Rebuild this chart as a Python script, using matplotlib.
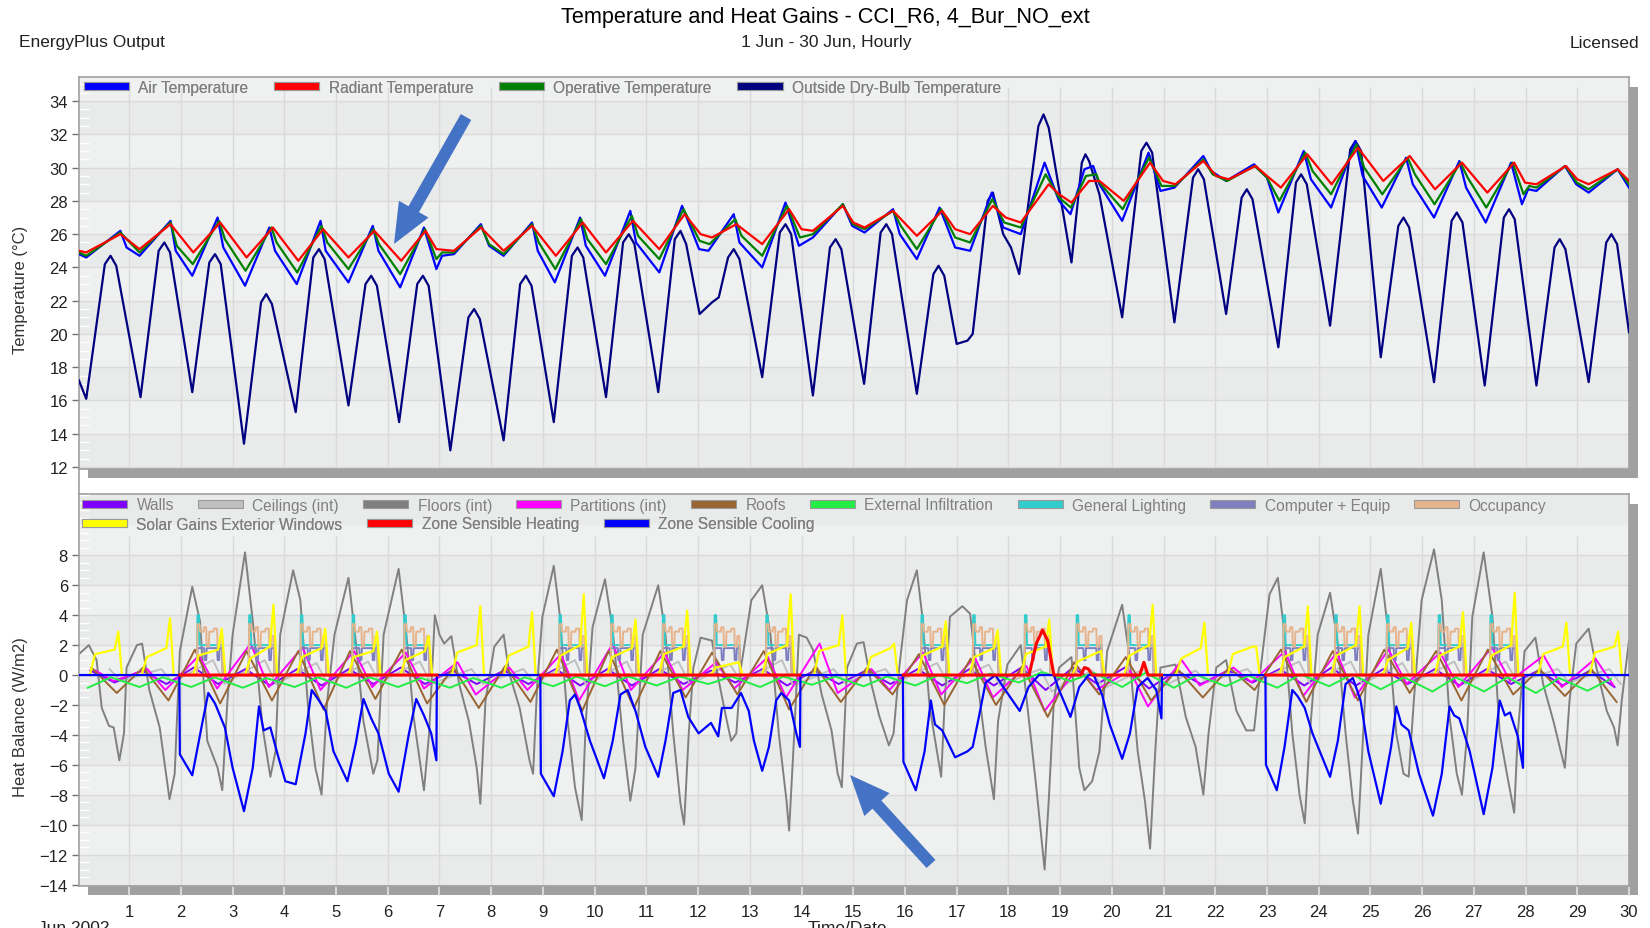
import numpy as np
import matplotlib
matplotlib.use('Agg')
import matplotlib.pyplot as plt
from matplotlib import font_manager
from matplotlib.patches import Patch, Rectangle, FancyArrow
from matplotlib.lines import Line2D
from matplotlib.transforms import IdentityTransform

# ---------------------------------------------------------------- data
# hourly EnergyPlus results, June; time in days from 1 Jun 00:00
outside_temp = [(0.03, 17.2), (0.17, 16.1), (0.53, 24.2), (0.64, 24.7), (0.75, 24.1), (1.22, 16.2),
                (1.57, 25.0), (1.68, 25.5), (1.79, 24.9), (2.22, 16.5), (2.55, 24.3), (2.66, 24.8),
                (2.77, 24.2), (3.22, 13.4), (3.55, 21.9), (3.65, 22.4), (3.76, 21.8), (4.22, 15.3),
                (4.56, 24.6), (4.67, 25.1), (4.78, 24.5), (5.24, 15.7), (5.57, 23.0), (5.68, 23.5),
                (5.79, 22.9), (6.22, 14.7), (6.57, 23.0), (6.68, 23.5), (6.79, 22.9), (7.21, 13.0),
                (7.56, 21.0), (7.67, 21.5), (7.78, 20.9), (8.24, 13.6), (8.56, 23.0), (8.67, 23.5),
                (8.78, 22.9), (9.21, 14.7), (9.56, 24.7), (9.67, 25.2), (9.78, 24.6), (10.22, 16.2),
                (10.55, 25.5), (10.66, 26.0), (10.77, 25.4), (11.23, 16.5), (11.55, 25.7), (11.66, 26.2),
                (11.77, 25.4), (12.03, 21.2), (12.27, 21.9), (12.40, 22.2), (12.58, 24.6), (12.69, 25.1),
                (12.80, 24.5), (13.24, 17.4), (13.58, 26.1), (13.69, 26.6), (13.80, 26.0), (14.22, 16.3),
                (14.55, 25.2), (14.66, 25.7), (14.77, 25.1), (15.21, 17.0), (15.53, 26.1), (15.64, 26.6),
                (15.75, 26.0), (16.23, 16.4), (16.55, 23.6), (16.65, 24.1), (16.76, 23.5), (17.00, 19.4),
                (17.21, 19.6), (17.31, 20.0), (17.60, 28.0), (17.70, 28.5), (17.90, 26.0), (18.05, 25.2),
                (18.21, 23.6), (18.58, 32.5), (18.68, 33.2), (18.78, 32.4), (19.22, 24.3), (19.42, 30.3),
                (19.49, 30.8), (19.56, 30.4), (19.76, 28.4), (20.20, 21.0), (20.57, 31.0), (20.67, 31.5),
                (20.78, 30.9), (21.21, 20.7), (21.57, 29.4), (21.67, 29.9), (21.78, 29.3), (22.21, 21.2),
                (22.51, 28.2), (22.61, 28.7), (22.72, 28.1), (23.22, 19.2), (23.56, 29.1), (23.66, 29.6),
                (23.77, 29.0), (24.22, 20.5), (24.61, 31.1), (24.71, 31.6), (24.82, 31.0), (25.20, 18.6),
                (25.54, 26.5), (25.64, 27.0), (25.75, 26.4), (26.23, 17.1), (26.57, 26.8), (26.67, 27.3),
                (26.78, 26.7), (27.21, 16.9), (27.58, 27.0), (27.68, 27.5), (27.79, 26.9), (28.21, 16.9),
                (28.56, 25.2), (28.66, 25.7), (28.77, 25.1), (29.22, 17.1), (29.56, 25.5), (29.66, 26.0),
                (29.77, 25.4), (30.00, 20.1)]

air_temp = [(0.03, 24.8), (0.17, 24.6), (0.83, 26.2), (0.95, 25.2), (1.20, 24.7), (1.80, 26.8), (1.90, 25.0),
            (2.22, 23.5), (2.71, 27.0), (2.82, 25.2), (3.24, 22.9), (3.71, 26.4), (3.82, 25.0), (4.24, 23.0),
            (4.70, 26.8), (4.80, 25.0), (5.24, 23.1), (5.71, 26.5), (5.82, 25.0), (6.24, 22.8), (6.70, 26.4),
            (6.94, 23.9), (7.05, 24.7), (7.28, 24.8), (7.80, 26.6), (7.96, 25.3), (8.24, 24.7), (8.79, 26.7),
            (8.90, 25.0), (9.23, 23.1), (9.72, 27.0), (9.83, 25.3), (10.20, 23.5), (10.69, 27.4), (10.80, 25.5),
            (11.25, 23.7), (11.69, 27.7), (12.02, 25.1), (12.20, 25.0), (12.69, 27.2), (12.80, 25.5),
            (13.24, 24.0), (13.69, 27.9), (13.95, 25.3), (14.22, 25.8), (14.80, 27.8), (14.98, 26.5),
            (15.22, 26.1), (15.77, 27.5), (15.90, 26.0), (16.23, 24.5), (16.67, 27.6), (16.97, 25.2),
            (17.26, 25.0), (17.68, 28.5), (17.90, 26.4), (18.24, 26.0), (18.70, 30.3), (18.98, 28.0),
            (19.20, 27.2), (19.47, 29.9), (19.64, 30.1), (19.76, 29.0), (20.20, 26.8), (20.71, 30.9),
            (20.94, 28.6), (21.21, 28.8), (21.77, 30.7), (21.92, 29.8), (22.21, 29.2), (22.75, 30.2),
            (23.00, 29.4), (23.22, 27.3), (23.71, 31.0), (23.85, 29.3), (24.24, 27.6), (24.71, 31.6),
            (24.85, 29.5), (25.22, 27.6), (25.69, 30.6), (25.82, 29.0), (26.23, 27.0), (26.72, 30.4),
            (26.85, 28.8), (27.23, 26.7), (27.72, 30.3), (27.93, 27.8), (28.05, 28.7), (28.21, 28.6),
            (28.76, 30.1), (28.98, 29.0), (29.22, 28.5), (29.78, 29.9), (30.00, 28.8)]

radiant_temp = [(0.03, 25.0), (0.17, 24.9), (0.83, 26.0), (1.20, 25.1), (1.80, 26.6), (2.24, 24.9),
                (2.76, 26.7), (3.27, 24.6), (3.78, 26.4), (4.27, 24.4), (4.75, 26.3), (5.24, 24.6),
                (5.74, 26.2), (6.26, 24.4), (6.73, 26.2), (6.94, 25.1), (7.28, 25.0), (7.80, 26.4),
                (8.24, 25.0), (8.79, 26.5), (9.25, 24.7), (9.77, 26.7), (10.22, 24.9), (10.74, 26.8),
                (11.25, 25.1), (11.74, 27.2), (12.05, 26.0), (12.27, 25.8), (12.74, 26.6), (13.24, 25.4),
                (13.76, 27.5), (14.00, 26.3), (14.22, 26.2), (14.80, 27.7), (15.00, 26.7), (15.22, 26.4),
                (15.77, 27.4), (16.23, 25.9), (16.72, 27.4), (16.97, 26.3), (17.26, 26.0), (17.70, 27.7),
                (17.95, 27.0), (18.24, 26.7), (18.78, 29.0), (18.98, 28.4), (19.22, 27.9), (19.56, 29.2),
                (19.76, 29.2), (20.23, 28.0), (20.74, 30.3), (20.99, 29.2), (21.23, 29.0), (21.77, 30.4),
                (22.02, 29.5), (22.26, 29.3), (22.78, 30.1), (23.00, 29.5), (23.27, 28.8), (23.78, 30.8),
                (24.25, 29.0), (24.76, 31.2), (25.25, 29.2), (25.76, 30.7), (26.25, 28.7), (26.77, 30.3),
                (27.26, 28.5), (27.78, 30.3), (27.99, 29.1), (28.21, 29.0), (28.78, 30.1), (29.00, 29.3),
                (29.22, 29.0), (29.78, 29.9), (30.00, 29.2)]

operative_temp = [(0.03, 24.9), (0.17, 24.7), (0.83, 26.1), (1.20, 24.9), (1.80, 26.7), (1.92, 25.3),
                  (2.23, 24.2), (2.74, 26.8), (2.85, 25.7), (3.25, 23.8), (3.75, 26.4), (3.85, 25.5),
                  (4.25, 23.7), (4.72, 26.5), (4.83, 25.5), (5.24, 23.9), (5.72, 26.3), (5.83, 25.4),
                  (6.24, 23.6), (6.72, 26.3), (6.94, 24.5), (7.05, 24.9), (7.28, 24.9), (7.80, 26.5),
                  (7.96, 25.4), (8.24, 24.8), (8.79, 26.6), (8.92, 25.5), (9.24, 23.9), (9.74, 26.9),
                  (9.86, 25.7), (10.22, 24.2), (10.72, 27.1), (10.84, 25.9), (11.25, 24.5), (11.72, 27.5),
                  (12.03, 25.6), (12.22, 25.4), (12.72, 26.9), (12.84, 25.9), (13.24, 24.7), (13.72, 27.7),
                  (13.97, 25.8), (14.22, 26.0), (14.80, 27.8), (14.99, 26.6), (15.22, 26.3), (15.77, 27.4),
                  (15.92, 26.5), (16.23, 25.1), (16.70, 27.5), (16.97, 25.8), (17.26, 25.5), (17.69, 28.1),
                  (17.92, 26.7), (18.24, 26.4), (18.72, 29.6), (18.98, 28.2), (19.21, 27.6), (19.50, 29.5),
                  (19.70, 29.6), (19.76, 29.1), (20.21, 27.5), (20.72, 30.6), (20.96, 28.9), (21.22, 28.9),
                  (21.77, 30.5), (21.95, 29.6), (22.23, 29.2), (22.76, 30.1), (23.00, 29.4), (23.24, 28.0),
                  (23.74, 30.9), (23.88, 29.8), (24.24, 28.4), (24.73, 31.4), (24.88, 30.0), (25.23, 28.4),
                  (25.72, 30.6), (25.86, 29.6), (26.24, 27.8), (26.74, 30.3), (26.88, 29.4), (27.24, 27.6),
                  (27.75, 30.3), (27.96, 28.4), (28.07, 28.9), (28.21, 28.8), (28.77, 30.1), (28.99, 29.1),
                  (29.22, 28.7), (29.78, 29.9), (30.00, 29.0)]

floors = [(0.03, 1.4), (0.22, 2.0), (0.37, 1.0), (0.47, -2.2), (0.61, -3.4), (0.70, -3.5), (0.81, -5.7),
          (0.90, -3.9), (0.95, 0.5), (1.15, 2.0), (1.25, 2.1), (1.39, -1.0), (1.59, -3.5), (1.78, -8.3),
          (1.88, -6.6), (1.98, 1.6), (2.22, 5.9), (2.37, 3.6), (2.51, -4.4), (2.71, -6.2), (2.80, -7.7),
          (2.90, -1.7), (3.00, 2.7), (3.24, 8.2), (3.39, 3.6), (3.58, -3.5), (3.73, -6.8), (3.83, -5.1),
          (3.92, 2.7), (4.17, 7.0), (4.31, 5.0), (4.46, -2.2), (4.60, -6.2), (4.72, -8.0), (4.83, -1.7),
          (4.97, 2.7), (5.24, 6.5), (5.38, 2.3), (5.53, -3.1), (5.72, -6.6), (5.80, -5.7), (5.92, 2.7),
          (6.21, 7.1), (6.36, 2.7), (6.50, -2.8), (6.70, -7.7), (6.80, -3.9), (6.91, 4.0), (7.00, 2.7),
          (7.09, 2.1), (7.23, 2.6), (7.38, -0.6), (7.57, -3.1), (7.72, -6.2), (7.79, -8.6), (7.89, -1.7),
          (8.06, 1.9), (8.24, 2.7), (8.35, 0.1), (8.55, -2.2), (8.74, -5.7), (8.81, -6.6), (8.89, -0.6),
          (8.99, 3.9), (9.21, 7.3), (9.33, 3.9), (9.47, -2.8), (9.62, -7.5), (9.75, -9.7), (9.83, -3.1),
          (9.96, 3.2), (10.20, 6.4), (10.35, 3.0), (10.55, -4.4), (10.69, -8.4), (10.79, -6.2), (10.93, 2.7),
          (11.23, 6.0), (11.37, 2.7), (11.52, -3.9), (11.66, -8.6), (11.73, -10.0), (11.82, -3.9),
          (11.91, 0.5), (12.05, 2.5), (12.27, 2.3), (12.39, -0.2), (12.54, -2.8), (12.64, -4.4),
          (12.74, -3.9), (12.83, 0.5), (13.03, 5.0), (13.24, 6.0), (13.40, 2.7), (13.56, -3.9),
          (13.71, -8.4), (13.76, -10.4), (13.86, -3.9), (13.95, 2.7), (14.10, 2.5), (14.22, 1.7),
          (14.39, -1.3), (14.58, -3.7), (14.70, -6.6), (14.78, -7.5), (14.88, 0.5), (15.07, 2.1),
          (15.20, 2.2), (15.35, -0.6), (15.50, -2.7), (15.69, -4.7), (15.78, -3.9), (15.89, 0.5),
          (16.04, 5.0), (16.23, 7.0), (16.33, 4.1), (16.48, -2.2), (16.62, -5.1), (16.70, -6.8),
          (16.77, -1.7), (16.87, 3.9), (17.11, 4.6), (17.26, 4.1), (17.41, -0.6), (17.56, -4.8),
          (17.72, -8.3), (17.80, -3.1), (17.98, 0.7), (18.24, 2.0), (18.39, -2.8), (18.54, -7.5),
          (18.70, -13.0), (18.78, -8.4), (18.88, -1.7), (18.98, 0.5), (19.22, 1.2), (19.37, -6.2),
          (19.47, -7.7), (19.62, -7.1), (19.76, -5.1), (19.91, 1.6), (20.20, 4.7), (20.35, 1.0),
          (20.50, -5.1), (20.64, -8.4), (20.74, -11.6), (20.84, -5.1), (20.94, 0.5), (21.23, 0.7),
          (21.43, -2.8), (21.62, -4.8), (21.77, -8.0), (21.87, -3.9), (22.02, 0.5), (22.21, 1.0),
          (22.41, -2.4), (22.60, -3.7), (22.75, -3.7), (22.88, 0.5), (23.05, 5.4), (23.21, 6.5),
          (23.34, 2.7), (23.49, -3.9), (23.63, -8.0), (23.73, -9.9), (23.83, -3.9), (23.98, 2.7),
          (24.22, 5.5), (24.37, 2.1), (24.52, -3.9), (24.66, -8.4), (24.76, -10.6), (24.86, -3.9),
          (24.96, 2.7), (25.20, 7.1), (25.35, 2.7), (25.50, -3.9), (25.64, -6.6), (25.74, -6.8),
          (25.84, -1.7), (25.99, 5.0), (26.23, 8.4), (26.38, 5.0), (26.53, -2.8), (26.67, -6.6),
          (26.77, -8.0), (26.87, -3.9), (26.97, 3.9), (27.19, 8.2), (27.36, 3.9), (27.50, -3.9),
          (27.65, -6.8), (27.78, -9.2), (27.85, -3.9), (27.98, 1.6), (28.19, 2.5), (28.34, -0.6),
          (28.54, -3.1), (28.68, -5.1), (28.76, -6.2), (28.85, -1.7), (28.98, 2.1), (29.22, 3.1),
          (29.37, 0.5), (29.57, -2.4), (29.71, -3.5), (29.78, -4.7), (29.86, -1.7), (30.00, 2.3)]

zone_cooling = [(0.0, 0.0), (1.97, 0.0), (1.98, -5.3), (2.22, -6.7), (2.42, -3.1), (2.53, -1.2), (2.66, -1.9),
                (2.85, -3.5), (3.00, -6.2), (3.22, -9.1), (3.39, -6.2), (3.51, -2.1), (3.60, -3.7),
                (3.73, -3.5), (3.87, -5.3), (4.02, -7.1), (4.22, -7.3), (4.41, -3.9), (4.53, -1.0),
                (4.65, -1.6), (4.80, -2.4), (4.95, -5.1), (5.22, -7.1), (5.38, -4.6), (5.53, -1.6),
                (5.68, -2.9), (5.82, -3.9), (6.02, -6.6), (6.21, -7.8), (6.41, -3.9), (6.55, -1.6),
                (6.70, -2.7), (6.84, -3.9), (6.94, -5.7), (6.95, 0.0), (8.95, 0.0), (8.96, -6.6), (9.21, -8.1),
                (9.38, -5.1), (9.52, -1.7), (9.62, -1.3), (9.72, -2.2), (9.91, -4.4), (10.18, -6.9),
                (10.35, -4.4), (10.50, -1.3), (10.64, -1.0), (10.79, -2.4), (10.98, -4.8), (11.23, -6.8),
                (11.37, -4.4), (11.52, -1.2), (11.66, -1.0), (11.81, -2.8), (12.01, -3.9), (12.25, -3.2),
                (12.39, -4.1), (12.46, -2.2), (12.65, -2.2), (12.83, -1.2), (12.98, -2.4), (13.08, -4.4),
                (13.24, -6.4), (13.37, -4.8), (13.51, -1.7), (13.61, -1.2), (13.76, -1.7), (13.90, -3.9),
                (13.97, -4.8), (13.98, 0.0), (15.96, 0.0), (15.97, -5.8), (16.21, -7.7), (16.38, -5.1),
                (16.50, -1.7), (16.58, -3.3), (16.72, -3.7), (16.97, -5.5), (17.21, -5.1), (17.31, -4.8),
                (17.43, -2.8), (17.56, -0.5), (17.75, 0.0), (17.90, -0.8), (18.22, -2.4), (18.39, -0.8),
                (18.59, 0.0), (18.88, 0.0), (18.98, -1.0), (19.20, -2.8), (19.37, -0.8), (19.55, 0.0),
                (19.65, 0.0), (19.81, -1.3), (19.96, -3.3), (20.20, -5.6), (20.35, -3.9), (20.50, -0.8),
                (20.69, -0.2), (20.86, -1.0), (20.96, -2.9), (20.97, 0.0), (22.97, 0.0), (22.98, -6.0),
                (23.19, -7.7), (23.34, -4.8), (23.49, -1.0), (23.59, -1.4), (23.73, -2.2), (23.88, -3.9),
                (24.22, -6.8), (24.37, -4.4), (24.52, -0.6), (24.66, -0.2), (24.81, -1.7), (24.96, -5.1),
                (25.20, -8.6), (25.40, -4.8), (25.50, -2.1), (25.60, -3.3), (25.74, -3.7), (25.94, -6.6),
                (26.21, -9.4), (26.38, -6.6), (26.53, -2.1), (26.62, -2.7), (26.72, -2.9), (26.92, -5.1),
                (27.19, -9.3), (27.36, -6.2), (27.50, -1.7), (27.60, -2.7), (27.70, -2.5), (27.85, -4.1),
                (27.95, -6.2), (27.96, 0.0), (30.0, 0.0)]

# heating only reported while the HVAC schedule is on (weekdays)
zone_heating = [(1.98, 0.0), (6.95, 0.0), (np.nan, np.nan), (8.96, 0.0), (13.97, 0.0), (np.nan, np.nan),
                (15.97, 0.0), (18.40, 0.0), (18.54, 2.1), (18.66, 3.0), (18.76, 2.3), (18.88, 0.0),
                (19.40, 0.0), (19.47, 0.5), (19.55, 0.4), (19.62, 0.0), (20.54, 0.0), (20.62, 0.85),
                (20.70, 0.0), (20.96, 0.0), (np.nan, np.nan), (22.98, 0.0), (27.95, 0.0)]

weekdays = [2, 3, 4, 5, 6, 9, 10, 11, 12, 13, 16, 17, 18, 19, 20, 23, 24, 25, 26, 27]

# office-hours schedules, (fraction of day, W/m2)
occupancy_profile = [(0.31, 0.0), (0.32, 3.4), (0.36, 3.4), (0.37, 2.9), (0.44, 2.9), (0.45, 3.2),
                     (0.49, 3.2), (0.50, 1.9), (0.54, 1.9), (0.55, 2.9), (0.63, 2.9), (0.64, 3.1),
                     (0.70, 3.1), (0.71, 1.9), (0.75, 1.9), (0.76, 2.6), (0.80, 2.6), (0.81, 0.0)]
lighting_profile = [(0.31, 0.0), (0.32, 4.0), (0.35, 4.0), (0.36, 2.0), (0.80, 2.0), (0.81, 0.0)]
equipment_profile = [(0.31, 0.0), (0.32, 1.8), (0.45, 1.8), (0.46, 1.0), (0.49, 1.0), (0.50, 1.8),
                     (0.70, 1.8), (0.71, 1.0), (0.74, 1.0), (0.75, 1.8), (0.80, 1.8), (0.81, 0.0)]

# solar gains: morning level, late-afternoon level and peak for each day
solar_am = [1.4, 1.2, 1.3, 1.1, 1.2, 1.2, 1.0, 1.5, 1.3, 1.3, 1.2, 1.4, 0.5, 1.4, 1.6,
            1.2, 1.3, 1.2, 1.4, 0.9, 1.3, 1.1, 1.4, 1.2, 1.3, 1.0, 1.3, 1.3, 1.4, 1.5]
solar_pm = [1.7, 1.8, 1.7, 1.9, 1.8, 1.6, 1.6, 2.0, 1.9, 2.0, 1.8, 1.9, 0.8, 2.0, 2.0,
            1.8, 1.9, 1.8, 1.9, 1.5, 2.0, 1.8, 1.9, 1.9, 2.0, 1.8, 1.9, 2.0, 1.9, 1.9]
solar_peak = [2.9, 3.8, 3.1, 4.7, 3.1, 2.9, 2.6, 4.6, 4.2, 5.4, 3.7, 4.3, 0.85, 5.4, 4.0,
              2.1, 3.6, 3.0, 3.7, 1.6, 4.7, 3.5, 1.9, 4.6, 4.6, 3.5, 4.2, 5.5, 3.5, 2.9]

# daily highs / lows of the fabric and infiltration terms
roof_hi = [0.5, 0.5, 1.7, 1.6, 1.6, 1.6, 1.7, 0.5, 0.6, 1.7, 1.6, 1.6, 1.5, 1.6, 0.6,
           0.5, 1.4, 1.1, 0.6, 0.85, 1.2, 0.4, 0.5, 1.7, 1.6, 1.7, 1.6, 1.7, 0.4, 0.4]
roof_lo = [-1.2, -1.7, -1.9, -1.7, -2.3, -1.6, -1.9, -2.2, -1.8, -2.4, -2.2, -1.5, -1.3, -2.3, -1.8,
           -1.3, -2.0, -2.0, -2.8, -1.3, -1.7, -1.5, -1.0, -1.8, -1.7, -1.2, -1.7, -1.3, -1.4, -1.8]
partition_hi = [0.3, 0.4, 1.3, 2.1, 1.85, 1.6, 1.5, 0.85, 0.5, 1.4, 2.1, 1.5, 0.85, 1.2, 2.1,
                0.4, 1.5, 1.2, 0.6, 0.5, 0.3, 1.0, 0.5, 1.6, 1.5, 1.7, 1.5, 1.85, 1.3, 1.1]
partition_lo = [-0.4, -1.0, -0.9, -0.8, -1.0, -0.8, -0.9, -1.3, -1.0, -1.7, -1.0, -1.0, -0.9, -1.5, -1.2,
                -1.0, -1.3, -1.5, -2.4, -1.0, -2.1, -0.7, -0.5, -1.4, -1.5, -0.6, -0.8, -0.4, -0.8, -0.7]
wall_hi = [0.3, 0.3, 0.5, 0.4, 0.4, 0.4, 0.5, 0.3, 0.3, 0.4, 0.4, 0.4, 0.3, 0.4, 0.3,
           0.3, 0.4, 0.4, 0.5, 0.5, 0.5, 0.3, 0.3, 0.4, 0.5, 0.4, 0.4, 0.4, 0.3, 0.3]
wall_lo = [-0.5, -0.6, -0.6, -0.7, -0.7, -0.6, -0.6, -0.6, -0.6, -0.7, -0.7, -0.6, -0.5, -0.7, -0.6,
           -0.6, -0.7, -0.7, -1.0, -0.6, -0.9, -0.6, -0.5, -0.7, -0.7, -0.6, -0.7, -0.6, -0.7, -0.8]
ceiling_hi = [0.4, 0.4, 1.0, 1.0, 0.8, 0.9, 0.9, 0.4, 0.4, 1.0, 0.9, 0.9, 0.7, 1.0, 0.4,
              0.4, 0.8, 0.7, 0.4, 0.3, 0.4, 0.3, 0.4, 0.9, 0.9, 0.8, 0.9, 0.9, 0.4, 0.4]
ceiling_lo = [-0.4, -0.5, -0.6, -0.6, -0.6, -0.5, -0.6, -0.6, -0.5, -0.7, -0.6, -0.6, -0.5, -0.7, -0.5,
              -0.5, -0.6, -0.7, -1.1, -0.9, -1.0, -0.5, -0.4, -0.6, -0.6, -0.5, -0.6, -0.5, -0.5, -0.6]
infiltration_lo = [-0.85, -0.8, -0.8, -0.85, -0.8, -0.85, -0.8, -0.85, -0.85, -0.75, -0.75, -0.7, -0.6, -0.8,
                   -0.65, -0.75, -0.7, -0.55, -0.5, -0.4, -0.8, -0.85, -0.75, -0.85, -0.75, -0.95, -1.1,
                   -1.1, -1.2, -1.05]
infiltration_hi = [-0.15, -0.15, -0.15, -0.2, -0.15, -0.15, -0.2, -0.2, -0.15, -0.1, -0.1, -0.1, -0.1, -0.1,
                   -0.1, -0.1, 0.0, 0.1, 0.2, 0.15, 0.15, 0.0, -0.05, 0.05, 0.05, -0.15, -0.15, -0.15,
                   -0.2, -0.25]


# ---------------------------------------------------------------- helpers
W, H = 1650, 929
AX_L, AX_R = 79, 1629


def fx(x):
    return x / W


def fy(y):
    return 1.0 - y / H


def unzip(pairs):
    t, v = zip(*pairs)
    return np.array(t, float), np.array(v, float)


def office_series(profile):
    t, v = [0.0], [0.0]
    for d in weekdays:
        for p, val in profile:
            t.append(d + p)
            v.append(val)
    t.append(30.0)
    v.append(0.0)
    return t, v


def daily_series(phases, levels):
    t, v = [], []
    for d in range(30):
        for p, lev in zip(phases, levels):
            t.append(d + p)
            v.append(lev[d])
    return t, v


names = {f.name for f in font_manager.fontManager.ttflist}
font = 'Liberation Sans Narrow' if 'Liberation Sans Narrow' in names else 'Liberation Sans'
plt.rcParams['font.family'] = [font, 'DejaVu Sans']

BG_DARK, BG_LIGHT = '#e9eaea', '#eff0f0'
GRID = '#dadada'
FRAME = '#a0a0a0'
LEG_TEXT = '#808080'
LEG_SIZE = 11.2

fig = plt.figure(figsize=(W / 100, H / 100), dpi=100)
fig.patch.set_facecolor('white')


def style_axes(ax, ylo, yhi, yticks, grid_top):
    ax.set_facecolor(BG_LIGHT)
    for k, y0 in enumerate(range(yticks[0] - 2, yticks[-1] + 4, 2)):
        ax.axhspan(y0, y0 + 2, color=BG_DARK if k % 2 else BG_LIGHT, lw=0, zorder=0)
    ax.set_xlim(0.03, 30.0)
    ax.set_ylim(ylo, yhi)
    ax.set_yticks(yticks)
    ax.set_xticks(range(1, 31))
    # horizontal grid from the ticks, day lines stop below the legend rows
    ax.grid(True, axis='y', color=GRID, lw=1.0, zorder=0.5)
    ax.vlines(range(1, 30), ylo, grid_top, color=GRID, lw=1.0, zorder=0.5)
    for s in ax.spines.values():
        s.set_color(FRAME)
        s.set_linewidth(1.2)
    ax.tick_params(axis='y', direction='out', length=5, width=1, color='#707070',
                   labelsize=12, labelcolor='#222222', pad=3)
    ax.yaxis.set_minor_locator(matplotlib.ticker.MultipleLocator(0.5))
    ax.tick_params(axis='y', which='minor', direction='in', length=7, width=1, color='white')


def shadow(x0, y0, x1, y1):
    fig.add_artist(Rectangle((fx(x0), fy(y1)), fx(x1) - fx(x0), fy(y0) - fy(y1),
                             transform=fig.transFigure, facecolor='#a0a0a0', edgecolor='none', zorder=-1))


def legend_row(ax, items, x, y, colspace):
    handles = [Patch(facecolor=c, edgecolor='#9a9a9a', lw=0.8) for _, c in items]
    labels = [lab for lab, _ in items]
    leg = ax.legend(handles, labels, loc='center left', bbox_to_anchor=(fx(x), fy(y)),
                    bbox_transform=fig.transFigure, ncol=len(items), frameon=False,
                    fontsize=LEG_SIZE, handlelength=2.9, handleheight=0.45, handletextpad=0.6,
                    columnspacing=colspace, borderpad=0, borderaxespad=0, labelcolor=LEG_TEXT)
    ax.add_artist(leg)
    return leg


# ---------------------------------------------------------------- temperatures
ax1 = fig.add_axes([fx(AX_L), fy(470), fx(AX_R) - fx(AX_L), (470 - 78) / H])
style_axes(ax1, 11.88, 35.45, list(range(12, 35, 2)), 34.85)
ax1.tick_params(axis='x', length=0, labelbottom=False)

for pairs, col in [(outside_temp, '#000080'), (air_temp, '#0000ff'),
                   (operative_temp, '#008000'), (radiant_temp, '#ff0000')]:
    t, v = unzip(pairs)
    ax1.plot(t, v, color=col, lw=1.6, zorder=3)

ax1.set_ylabel('Temperature (°C)', fontsize=12, color='#333333')
ax1.yaxis.set_label_coords((28 - AX_L) / (AX_R - AX_L), 0.459)

legend_row(ax1, [('Air Temperature', '#0000ff'), ('Radiant Temperature', '#ff0000'),
                 ('Operative Temperature', '#008000'), ('Outside Dry-Bulb Temperature', '#000080')],
           84, 88, 1.65)

shadow(AX_R, 88, 1638, 479)
shadow(88, 470, 1638, 479)
fig.add_artist(Line2D([fx(AX_L), fx(AX_L)], [fy(470), fy(495)], color=FRAME, lw=1.2,
                      transform=fig.transFigure))

# ---------------------------------------------------------------- heat balance
ax2 = fig.add_axes([fx(AX_L), fy(887), fx(AX_R) - fx(AX_L), (887 - 495) / H])
style_axes(ax2, -14.1, 12.1, list(range(-14, 9, 2)), 9.3)
ax2.tick_params(axis='x', direction='out', length=7, width=1.2, color='#e4e4e4',
                labelsize=12, labelcolor='#222222', pad=6)

for (t, v), col in [(daily_series([0.25, 0.72], [wall_hi, wall_lo]), '#8000ff'),
                    (daily_series([0.62, 0.84], [ceiling_hi, ceiling_lo]), '#c0c0c0')]:
    ax2.plot(t, v, color=col, lw=1.4, zorder=2)

t, v = unzip(floors)
ax2.plot(t, v, color='#808080', lw=1.4, zorder=2)

for (t, v), col in [(daily_series([0.35, 0.70], [partition_hi, partition_lo]), '#ff00ff'),
                    (daily_series([0.27, 0.76], [roof_hi, roof_lo]), '#996633'),
                    (daily_series([0.20, 0.65], [infiltration_lo, infiltration_hi]), '#22ee44')]:
    ax2.plot(t, v, color=col, lw=1.4, zorder=2)

for prof, col in [(lighting_profile, '#33cccc'), (equipment_profile, '#7f7fbf'),
                  (occupancy_profile, '#e6b48c')]:
    t, v = office_series(prof)
    ax2.plot(t, v, color=col, lw=1.4, zorder=2)

zeros = [0.0] * 30
t, v = daily_series([0.24, 0.34, 0.72, 0.79, 0.86], [zeros, solar_am, solar_pm, solar_peak, zeros])
ax2.plot(t, v, color='#ffff00', lw=1.6, zorder=2.5)

t, v = unzip(zone_cooling)
ax2.plot(t, v, color='#0000ff', lw=1.6, zorder=3)
t, v = unzip(zone_heating)
ax2.plot(t, v, color='#ff0000', lw=2.2, zorder=3.2)

ax2.set_ylabel('Heat Balance (W/m2)', fontsize=12, color='#333333')
ax2.yaxis.set_label_coords((28 - AX_L) / (AX_R - AX_L), 0.434)

legend_row(ax2, [('Walls', '#8000ff'), ('Ceilings (int)', '#c0c0c0'), ('Floors (int)', '#808080'),
                 ('Partitions (int)', '#ff00ff'), ('Roofs', '#996633'),
                 ('External Infiltration', '#22ee44'), ('General Lighting', '#33cccc'),
                 ('Computer + Equip', '#7f7fbf'), ('Occupancy', '#e6b48c')], 82, 506, 1.55)
legend_row(ax2, [('Solar Gains Exterior Windows', '#ffff00'), ('Zone Sensible Heating', '#ff0000'),
                 ('Zone Sensible Cooling', '#0000ff')], 82, 525, 1.6)

shadow(AX_R, 505, 1638, 896)
shadow(88, 887, 1638, 896)

# ---------------------------------------------------------------- headings
fig.text(fx(825), fy(17), 'Temperature and Heat Gains - CCI_R6, 4_Bur_NO_ext', ha='center', va='center',
         fontsize=15.6, color='black')
fig.text(fx(826), fy(43), '1 Jun - 30 Jun, Hourly', ha='center', va='center', fontsize=12.5, color='#222222')
fig.text(fx(19), fy(43), 'EnergyPlus Output', ha='left', va='center', fontsize=12.5, color='#222222')
fig.text(fx(1639), fy(43), 'Licensed', ha='right', va='center', fontsize=12.5, color='#222222')
fig.text(fx(38), fy(921), 'Jun 2002', ha='left', va='top', fontsize=12.5, color='#222222')
fig.text(fx(847), fy(921), 'Time/Date', ha='center', va='top', fontsize=12.5, color='#222222')

# ---------------------------------------------------------------- callout arrows
for x0, y0, x1, y1 in [(466, 118, 394, 245), (931, 865, 850, 776)]:
    fig.add_artist(FancyArrow(x0, H - y0, x1 - x0, y0 - y1, width=12, head_width=34, head_length=40,
                              length_includes_head=True, color='#4472c4', lw=0,
                              transform=IdentityTransform(), zorder=10))

fig.savefig('out.png', dpi=100)
